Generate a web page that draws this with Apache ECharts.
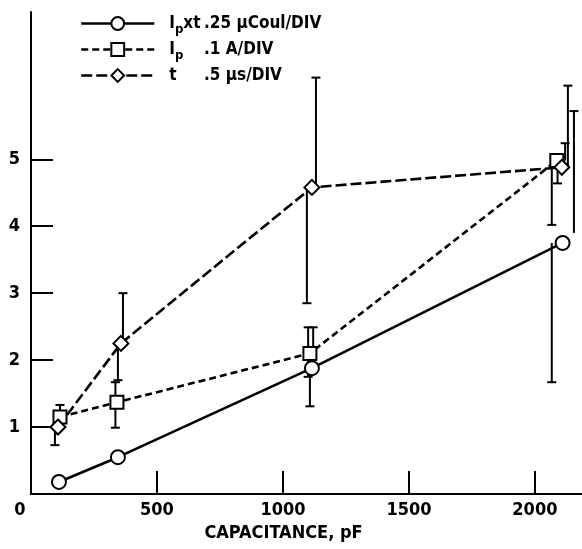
<!DOCTYPE html>
<html>
<head>
<meta charset="utf-8">
<script src="https://cdn.jsdelivr.net/npm/echarts@6/dist/echarts.min.js"></script>
<style>html,body{margin:0;padding:0;background:#fff}#c{width:582px;height:549px}</style>
</head>
<body>
<div id="c"></div>
<script>
// ---- data ----
const xTickValues = [0, 500, 1000, 1500, 2000];
const yTickValues = [1, 2, 3, 4, 5];
const xName = 'CAPACITANCE, pF';

const seriesNames = ['Ipxt', 'Ip', 't'];
const seriesScales = ['.25 \u03bcCoul/DIV', '.1 A/DIV', '.5 \u03bcs/DIV'];

const ipxtX = [111, 345, 1115, 2110];
const ipxtY = [0.18, 0.55, 1.88, 3.75];
const ipX = [115, 341, 1107, 2087];
const ipY = [1.15, 1.37, 2.10, 4.98];
const tX = [107, 357, 1115, 2107];
const tY = [1.00, 2.25, 4.58, 4.88];

// error whiskers: [x, from, to] (cap drawn at "to")
const ipxtErr = [[1107, 1.88, 1.31], [1120, 1.88, 2.49], [2067, 3.75, 1.67], [2155, 3.90, 5.72]];
const ipErr = [[115, 1.15, 1.33], [335, 1.37, 1.67], [335, 1.37, 0.99], [1100, 2.10, 2.49], [1100, 2.10, 1.75], [2120, 4.98, 5.24], [2090, 4.98, 4.64]];
const tErr = [[95, 1.00, 0.73], [365, 2.25, 3.00], [345, 2.25, 1.70], [1131, 4.58, 6.22], [1095, 4.58, 2.85], [2131, 4.88, 6.10], [2067, 4.88, 4.02]];

// ---- chart ----
const FONT = '"Liberation Sans Narrow", "DejaVu Sans Condensed", "Liberation Sans", sans-serif';
const zip = (xs, ys) => xs.map((x, i) => [x, ys[i]]);

function whisker(params, api) {
  const x = api.value(0), a = api.value(1), b = api.value(2);
  const p0 = api.coord([x, a]), p1 = api.coord([x, b]);
  return {
    type: 'group',
    children: [
      {type: 'line', shape: {x1: p0[0], y1: p0[1], x2: p1[0], y2: p1[1]}, style: {stroke: '#000', lineWidth: 2}},
      {type: 'line', shape: {x1: p1[0] - 4.5, y1: p1[1], x2: p1[0] + 4.5, y2: p1[1]}, style: {stroke: '#000', lineWidth: 2}}
    ]
  };
}

const labelParts = {
  'Ipxt': '{m|I}{s|p}{m|xt}',
  'Ip': '{m|I}{s|p}',
  't': '{m|t}'
};
const richBase = {
  m: {fontFamily: FONT, fontWeight: 'bold', fontSize: 17, lineHeight: 25, verticalAlign: 'middle', color: '#000'},
  s: {fontFamily: FONT, fontWeight: 'bold', fontSize: 13, lineHeight: 13, verticalAlign: 'bottom', color: '#000'},
  v: {fontFamily: FONT, fontWeight: 'bold', fontSize: 17, lineHeight: 25, verticalAlign: 'middle', color: '#000'}
};

const chart = echarts.init(document.getElementById('c'), null, {renderer: 'canvas'});
chart.setOption({
  animation: false,
  backgroundColor: '#fff',
  grid: {left: 31, right: 0, top: 12, bottom: 55, containLabel: false},
  legend: [
    {
      orient: 'vertical', left: 75, top: 10, itemWidth: 73, itemHeight: 16, itemGap: 5,
      selectedMode: false, data: seriesNames,
      lineStyle: {width: 2.5},
      itemStyle: {borderWidth: 2},
      formatter: n => labelParts[n],
      textStyle: {rich: richBase, padding: [0, 0, 0, 10]}
    },
    {
      orient: 'vertical', left: 194, top: 10, itemWidth: 0, itemHeight: 16, itemGap: 9,
      icon: 'rect', itemStyle: {color: 'rgba(0,0,0,0)', borderWidth: 0},
      selectedMode: false, data: seriesNames,
      formatter: n => '{v|' + seriesScales[seriesNames.indexOf(n)] + '}',
      textStyle: {rich: richBase}
    }
  ],
  xAxis: {
    type: 'value', min: 0, max: 2187,
    name: xName, nameLocation: 'middle', nameGap: 28,
    nameTextStyle: {fontFamily: FONT, fontWeight: 'bold', fontSize: 18, color: '#000', padding: [0, 46, 0, 0]},
    axisLine: {show: true, onZero: false, lineStyle: {color: '#000', width: 2}},
    axisTick: {show: true, inside: true, length: 23, customValues: xTickValues.filter(v => v > 0), lineStyle: {color: '#000', width: 2}},
    axisLabel: {
      customValues: xTickValues, margin: 7, color: '#000',
      fontFamily: FONT, fontWeight: 'bold', fontSize: 18,
      formatter: v => v === 0 ? '{z|0}' : String(v),
      rich: {z: {fontFamily: FONT, fontWeight: 'bold', fontSize: 18, color: '#000', padding: [0, 22, 0, 0]}}
    },
    splitLine: {show: false}
  },
  yAxis: {
    type: 'value', min: 0, max: 7.2,
    axisLine: {show: true, onZero: false, lineStyle: {color: '#000', width: 2}},
    axisTick: {show: true, inside: true, length: 22, customValues: yTickValues, lineStyle: {color: '#000', width: 2}},
    axisLabel: {customValues: yTickValues, margin: 11, color: '#000', fontFamily: FONT, fontWeight: 'bold', fontSize: 18},
    splitLine: {show: false}
  },
  series: [
    {type: 'custom', name: 'Ipxt err', renderItem: whisker, data: ipxtErr, encode: {x: 0, y: [1, 2]}, z: 1, silent: true},
    {type: 'custom', name: 'Ip err', renderItem: whisker, data: ipErr, encode: {x: 0, y: [1, 2]}, z: 1, silent: true},
    {type: 'custom', name: 't err', renderItem: whisker, data: tErr, encode: {x: 0, y: [1, 2]}, z: 1, silent: true},
    {
      type: 'line', name: 'Ipxt', data: zip(ipxtX, ipxtY), z: 3,
      symbol: 'circle', symbolSize: 14, showAllSymbol: true,
      lineStyle: {color: '#000', width: 2.6, type: 'solid'},
      itemStyle: {color: '#fff', borderColor: '#000', borderWidth: 2}
    },
    {
      type: 'line', name: 'Ip', data: zip(ipX, ipY), z: 3,
      symbol: 'rect', symbolSize: 13, showAllSymbol: true,
      lineStyle: {color: '#000', width: 2.6, type: [7, 4]},
      itemStyle: {color: '#fff', borderColor: '#000', borderWidth: 2}
    },
    {
      type: 'line', name: 't', data: zip(tX, tY), z: 3,
      symbol: 'diamond', symbolSize: [15, 15], showAllSymbol: true,
      lineStyle: {color: '#000', width: 2.6, type: [11, 4]},
      itemStyle: {color: '#fff', borderColor: '#000', borderWidth: 2}
    }
  ]
});
</script>
</body>
</html>
